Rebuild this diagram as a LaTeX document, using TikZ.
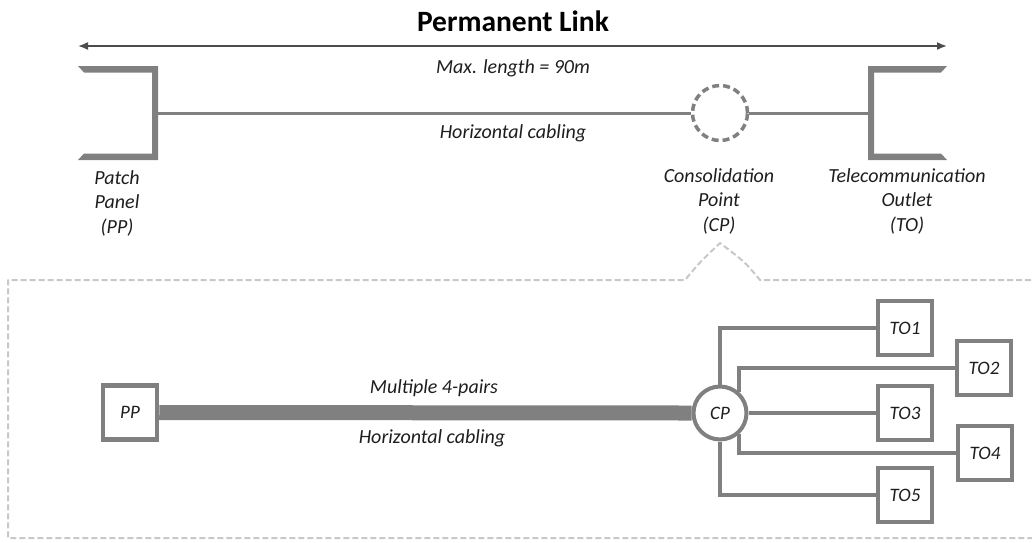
\documentclass[tikz,border=0pt]{standalone}
\usepackage{fontspec}
\setmainfont{Carlito}
\usetikzlibrary{arrows.meta}
\definecolor{cablegray}{RGB}{128,128,128}
\definecolor{boxdash}{RGB}{200,200,200}
\definecolor{txt}{RGB}{30,30,30}
\begin{document}
\begin{tikzpicture}[x=1pt,y=-1pt,
  lbl/.style={font=\fontsize{20}{24.5}\selectfont\itshape, text=txt, align=center, inner sep=0pt},
  cable/.style={draw=cablegray, line width=3pt},
  tobox/.style={draw=cablegray, line width=4.5pt, fill=white, minimum size=54pt, inner sep=0pt, font=\fontsize{19}{20}\selectfont\itshape, text=txt},
  link/.style={draw=cablegray, line width=4pt}]
\useasboundingbox (0,0) rectangle (1032,542);

% title and arrow
\node[font=\fontsize{29.5}{32}\selectfont\bfseries, text=black, inner sep=0pt] (title) at (513,21) {Permanent Link};
\coordinate (al) at (78,46);
\coordinate (ar) at (947,46);
\draw[{Latex[length=10pt,width=8pt]}-{Latex[length=10pt,width=8pt]}, draw=black!70, line width=1.6pt] (al) -- (ar);

% patch panel bracket
\fill[cablegray] (78,66) -- (158,66) -- (158,160) -- (78,160) -- (84,153.5) -- (152,153.5) -- (152,72.5) -- (84,72.5) -- cycle;
\coordinate (ppc) at (158,113);
% telecom outlet bracket
\fill[cablegray] (947,66) -- (868,66) -- (868,160) -- (947,160) -- (941,153.5) -- (874,153.5) -- (874,72.5) -- (941,72.5) -- cycle;
\coordinate (toc) at (868,113);

% consolidation point
\node[circle, draw=cablegray, dash pattern=on 7pt off 4pt, line width=3.5pt, minimum size=55pt, inner sep=0pt, fill=white] (cpt) at (720,113) {};
\draw[cable] (ppc) -- (cpt.west);
\draw[cable] (cpt.east) -- (toc);

\node[lbl] (maxl) at (513,68) {Max. length = 90m};
\node[lbl] (hc1) at (513,133) {Horizontal cabling};
\node[lbl] (ppl) at (117,203) {Patch\\Panel\\(PP)};
\node[lbl] (cpl) at (719,201) {Consolidation\\Point\\(CP)};
\node[lbl] (tol) at (907,201) {Telecommunication\\Outlet\\(TO)};

% detail box
\draw[boxdash, line width=2pt, dash pattern=on 6pt off 3pt, line join=round]
  (1040,280) -- (760,280) .. controls (745,262) .. (720,243) .. controls (700,262) .. (685,280) -- (8,280) -- (8,538) -- (1040,538);

% bottom diagram
\node[tobox] (pp) at (130,412.5) {PP};
\node[circle, draw=cablegray, line width=4pt, minimum size=53pt, inner sep=0pt, fill=white, font=\fontsize{19}{20}\selectfont\itshape, text=txt] (cp) at (720,413) {CP};
\draw[draw=cablegray, line width=15pt] (pp.east) -- (cp.west);
\node[lbl] (mp) at (434,388) {Multiple 4-pairs};
\node[lbl] (hc2) at (432,438) {Horizontal cabling};

\node[tobox] (to1) at (905,328) {TO1};
\node[tobox] (to2) at (984,368) {TO2};
\node[tobox] (to3) at (905,413) {TO3};
\node[tobox] (to4) at (985,453) {TO4};
\node[tobox] (to5) at (905,495) {TO5};

\draw[link] (cp.north) |- (to1.west);
\draw[link] (cp.47) |- (to2.west);
\draw[link] (cp.east) -- (to3.west);
\draw[link] (cp.-47) |- (to4.west);
\draw[link] (cp.south) |- (to5.west);
\end{tikzpicture}
\end{document}
